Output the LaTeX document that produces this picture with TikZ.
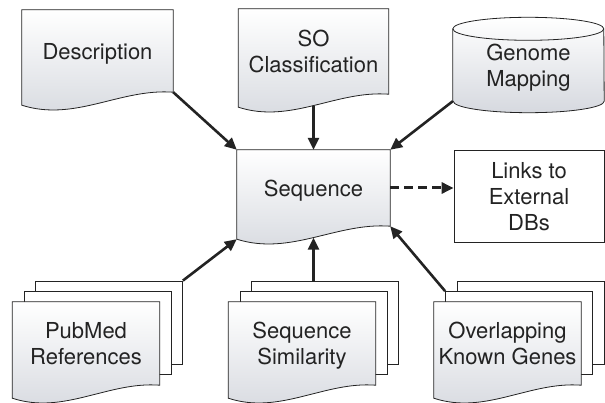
\documentclass[tikz,border=0pt]{standalone}
\usepackage{fontspec}
\setmainfont{TeX Gyre Heros}
\usetikzlibrary{arrows.meta,calc}
\pgfdeclarelayer{background}
\pgfsetlayers{background,main}
\definecolor{docgray}{RGB}{214,217,223}
\definecolor{lineclr}{RGB}{35,35,35}

\begin{document}
\begin{tikzpicture}[x=1pt, y=1pt,
	box/.style={inner sep=0pt, align=center, text depth=0pt, text=lineclr, font=\fontsize{22}{26}\selectfont},
	page/.style={inner sep=0pt, minimum width=147pt, minimum height=83pt},
	docshade/.style={draw=lineclr, line width=0.8pt, top color=white, bottom color=docgray},
	sheet/.style={draw=lineclr, line width=0.8pt, fill=white},
	conn/.style={draw=lineclr, line width=2.6pt, -{Triangle[length=12pt,width=11pt]}},
	linkconn/.style={draw=lineclr, line width=3pt, dash pattern=on 9pt off 5pt, -{Triangle[length=12pt,width=11pt]}}]
	\useasboundingbox (0,0) rectangle (605,402);
	
	\node[box, minimum width=151pt, minimum height=82pt] (desc) at (97.5,351) {Description};
	\node[box, minimum width=150pt, minimum height=85pt] (so) at (313.5,350.5) {SO\\Classification};
	\node[box, minimum width=151pt, minimum height=72pt] (gm) at (528.5,337) {Genome\\Mapping};
	\node[box, minimum width=153pt, minimum height=76pt] (seq) at (313.5,214) {Sequence};
	\node[box, draw=lineclr, line width=0.8pt, minimum width=150pt, minimum height=92pt] (links) at (529,206) {Links to\\External\\DBs};
	\node[box, page] (pubmed) at (86,58.5) {PubMed\\References};
	\node[box, page] (simil) at (302,58.5) {Sequence\\Similarity};
	\node[box, page] (overlap) at (507.5,58.5) {Overlapping\\Known Genes};
	
	\begin{pgfonlayer}{background}
		\foreach \n in {pubmed,simil,overlap} {
			\node[sheet, page] (\n-3) at ($(\n)+(23,21)$) {};
			\node[sheet, page] (\n-2) at ($(\n)+(11.5,10.5)$) {};
		}
		\foreach \n in {desc,so,seq,pubmed,simil,overlap}
			\path[docshade] (\n.north west) -- (\n.north east) -- (\n.south east)
				.. controls ($(\n.south east)!0.35!(\n.south west)+(0,4)$)
				and ($(\n.south east)!0.65!(\n.south west)+(0,-30)$)
				.. ($(\n.south west)+(0,-13)$) coordinate[pos=0.5] (\n-wave) coordinate[pos=1] (\n-foot) -- cycle;
		
		\path[docshade] (gm.south west) -- (gm.north west)
			arc[start angle=180, end angle=0, x radius=75.5pt, y radius=11.5pt] -- (gm.south east)
			arc[start angle=0, end angle=-180, x radius=75.5pt, y radius=11.5pt] -- cycle;
		\draw[lineclr, line width=0.8pt] (gm.north west) arc[start angle=180, end angle=360, x radius=75.5pt, y radius=11.5pt];
	\end{pgfonlayer}
	
	\draw[conn] (desc.south east) -- (seq.north west);
	\draw[conn] (so-wave) -- (seq.north);
	\draw[conn] (gm.south west) -- (seq.north east);
	\draw[conn] (pubmed-3.north east) -- (seq-foot);
	\draw[conn] (seq-wave |- simil-3.north) -- (seq-wave);
	\draw[conn] (overlap-2.north west) -- (seq.south east);
	\draw[linkconn] (seq.east) -- (seq.east -| links.west);
\end{tikzpicture}
\end{document}
